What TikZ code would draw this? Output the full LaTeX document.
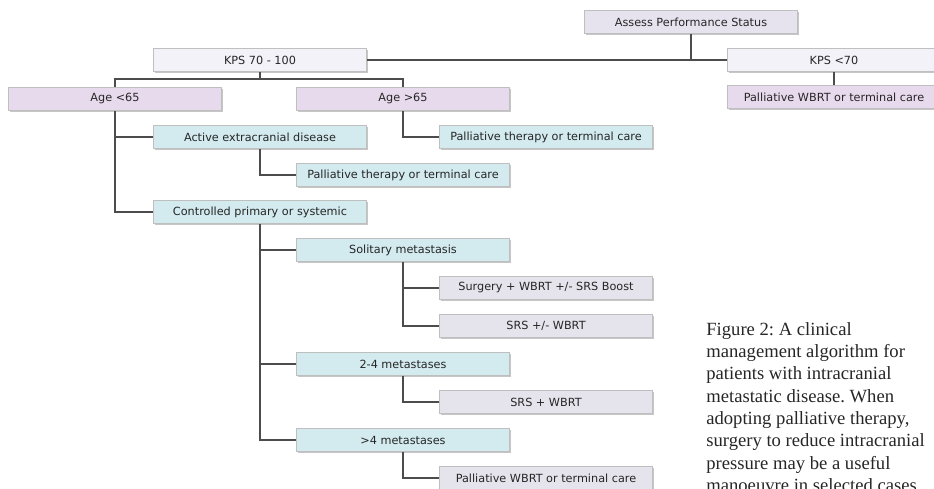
\documentclass[tikz,border=0pt]{standalone}
\usepackage{fontspec}
\setmainfont{Liberation Serif}
\newfontfamily\boxfont{DejaVu Sans}
\usetikzlibrary{shadows}
\definecolor{lavbox}{HTML}{E6E3EE}
\definecolor{palebox}{HTML}{F4F2F9}
\definecolor{pinkbox}{HTML}{E8DAED}
\definecolor{cyanbox}{HTML}{D3EBEF}
\definecolor{greybox}{HTML}{E5E4EC}
\frenchspacing
\begin{document}
\begin{tikzpicture}[x=0.02cm,y=-0.02cm,
    box/.style={minimum width=4.26cm, minimum height=0.46cm, inner sep=0pt,
        draw=black!25, line width=0.3pt, text=black!85,
        font=\boxfont\fontsize{6.4}{7}\selectfont,
        drop shadow={shadow xshift=0.7pt, shadow yshift=-0.7pt, fill=black!50, opacity=0.45}},
    link/.style={draw=black!70, line width=0.7pt},
    caption/.style={align=left, inner sep=0pt, text=black!85,
        font=\fontsize{10.6}{12.7}\selectfont}]
    \useasboundingbox (0,0) rectangle (934,489);
    \node[box, fill=lavbox] (assess) at (691,22) {Assess Performance Status};
    \node[box, fill=palebox] (kpsHigh) at (260,60) {KPS 70 - 100};
    \node[box, fill=palebox] (kpsLow) at (834,60) {KPS <70};
    \node[box, fill=pinkbox] (ageLow) at (115,99) {Age <65};
    \node[box, fill=pinkbox] (ageHigh) at (403,99) {Age >65};
    \node[box, fill=pinkbox] (palWbrtTop) at (834,97) {Palliative WBRT or terminal care};
    \node[box, fill=cyanbox] (active) at (260,137) {Active extracranial disease};
    \node[box, fill=cyanbox] (palTherA) at (546,137) {Palliative therapy or terminal care};
    \node[box, fill=cyanbox] (palTherB) at (403,175) {Palliative therapy or terminal care};
    \node[box, fill=cyanbox] (controlled) at (260,212) {Controlled primary or systemic};
    \node[box, fill=cyanbox] (solitary) at (403,250) {Solitary metastasis};
    \node[box, fill=greybox] (surgery) at (546,288) {Surgery + WBRT +/- SRS Boost};
    \node[box, fill=greybox] (srsOr) at (546,326) {SRS +/- WBRT};
    \node[box, fill=cyanbox] (fewMets) at (403,364) {2-4 metastases};
    \node[box, fill=greybox] (srsPlus) at (546,402) {SRS + WBRT};
    \node[box, fill=cyanbox] (manyMets) at (403,440) {>4 metastases};
    \node[box, fill=greybox] (palWbrtBot) at (546,478) {Palliative WBRT or terminal care};
    \coordinate (ageFork) at (260,79);
    \draw[link] (assess.south) -- (assess.south |- kpsHigh.east);
    \draw[link] (kpsHigh.east) -- (kpsLow.west);
    \draw[link] (kpsLow.south) -- (palWbrtTop.north);
    \draw[link] (kpsHigh.south) -- (ageFork);
    \draw[link] (ageLow.north) |- (ageFork) -| (ageHigh.north);
    \draw[link] (ageLow.south) |- (active.west);
    \draw[link] (ageLow.south) |- (controlled.west);
    \draw[link] (ageHigh.south) |- (palTherA.west);
    \draw[link] (active.south) |- (palTherB.west);
    \draw[link] (controlled.south) |- (solitary.west);
    \draw[link] (controlled.south) |- (fewMets.west);
    \draw[link] (controlled.south) |- (manyMets.west);
    \draw[link] (solitary.south) |- (surgery.west);
    \draw[link] (solitary.south) |- (srsOr.west);
    \draw[link] (fewMets.south) |- (srsPlus.west);
    \draw[link] (manyMets.south) |- (palWbrtBot.west);
    \node[caption, anchor=north west] (caption) at (706,322) {Figure 2: A clinical\\
        management algorithm for\\ patients with intracranial\\
        metastatic disease. When\\ adopting palliative therapy,\\
        surgery to reduce intracranial\\ pressure may be a useful\\
        manoeuvre in selected cases.};
\end{tikzpicture}
\end{document}
